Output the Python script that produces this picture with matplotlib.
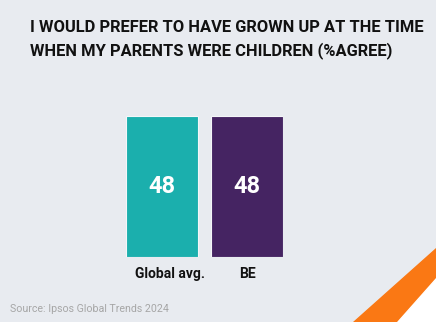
import matplotlib.pyplot as plt
from matplotlib.patches import Polygon

categories = ['Global avg.', 'BE']
values = [48, 48]
colors = ['#1BAFAD', '#452462']
title = 'I WOULD PREFER TO HAVE GROWN UP AT THE TIME\nWHEN MY PARENTS WERE CHILDREN (%AGREE)'
source = 'Source: Ipsos Global Trends 2024'

W, H = 436, 322
bg = '#E8EBF0'
plt.rcParams['font.family'] = ['Roboto', 'DejaVu Sans']

fig = plt.figure(figsize=(W / 100, H / 100), dpi=100, facecolor=bg)

# decorative stripe bottom right
fig.patches.append(Polygon([(353 / W, 0), (1, 0), (1, 1 - 248 / H)], closed=True,
                           transform=fig.transFigure, color='#FA7814', zorder=0))
fig.patches.append(Polygon([(397 / W, 0), (1, 0), (1, 1 - 278 / H)], closed=True,
                           transform=fig.transFigure, color='white', zorder=1))

ax = fig.add_axes([126 / W, 1 - 257 / H, (283 - 126) / W, (257 - 116) / H])
ax.set_facecolor('none')
w = 72 / 85
bars = ax.bar(range(len(values)), values, width=w, color=colors,
              edgecolor='#F4F6F8', linewidth=0.8)
ax.set_xlim(-w / 2, len(values) - 1 + w / 2)
ax.set_ylim(0, max(values))
ax.axis('off')

label_dx = [0.09, 0]
for i, v in enumerate(values):
    ax.text(i, v / 2, str(v), ha='center', va='center', color='white',
            fontsize=17, fontweight='bold')
    ax.text(i + label_dx[i], -3.5, categories[i], ha='center', va='top',
            color='#111111', fontsize=10, fontweight='bold')

fig.text(30 / W, 1 - 20 / H, title, ha='left', va='top', fontsize=11.9,
         fontweight='bold', color='#111111', linespacing=1.5)
fig.text(10 / W, 1 - 309 / H, source, ha='left', va='center', fontsize=7.7,
         color='#A6A6A6')

fig.savefig('out.png', dpi=100, facecolor=bg)
